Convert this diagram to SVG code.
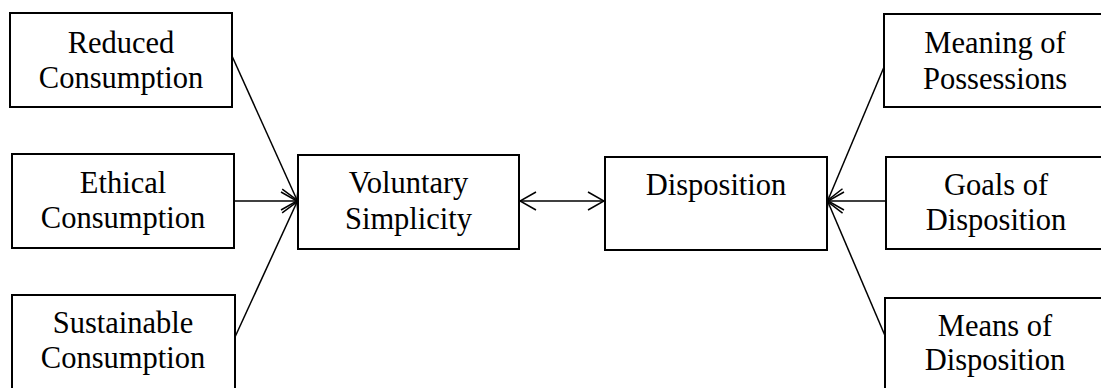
<svg xmlns="http://www.w3.org/2000/svg" width="1101" height="388" viewBox="0 0 1101 388">
  <style>
    .box { fill: #ffffff; stroke: #000000; stroke-width: 2; }
    .lbl { font-family: "Liberation Serif", "Times New Roman", serif; font-size: 30.5px; fill: #000000; text-anchor: middle; }
    .link { fill: none; stroke: #000000; stroke-width: 1.5; }
  </style>
  <defs>
    <marker id="vee" viewBox="0 0 18 20" refX="17" refY="10" markerWidth="18" markerHeight="20" markerUnits="userSpaceOnUse" orient="auto-start-reverse">
      <path d="M1,1 L17,10 L1,19" fill="none" stroke="#000000" stroke-width="1.5"/>
    </marker>
  </defs>

  <rect width="1101" height="388" fill="#ffffff"/>

  <g id="connectors">
    <line class="link" x1="232" y1="56" x2="297" y2="200" marker-end="url(#vee)"/>
    <line class="link" x1="234" y1="201" x2="297" y2="201" marker-end="url(#vee)"/>
    <line class="link" x1="235" y1="337" x2="297" y2="202" marker-end="url(#vee)"/>
    <line class="link" x1="520" y1="201" x2="604" y2="201" marker-start="url(#vee)" marker-end="url(#vee)"/>
    <line class="link" x1="884" y1="67" x2="828" y2="200" marker-end="url(#vee)"/>
    <line class="link" x1="886" y1="201" x2="828" y2="201" marker-end="url(#vee)"/>
    <line class="link" x1="886" y1="338" x2="828" y2="202" marker-end="url(#vee)"/>
  </g>

  <g id="reduced-consumption">
    <rect class="box" x="10" y="13" width="222" height="94"/>
    <text class="lbl" x="121" y="53">Reduced</text>
    <text class="lbl" x="121" y="88">Consumption</text>
  </g>

  <g id="ethical-consumption">
    <rect class="box" x="12" y="154" width="222" height="94"/>
    <text class="lbl" x="123" y="193">Ethical</text>
    <text class="lbl" x="123" y="228">Consumption</text>
  </g>

  <g id="sustainable-consumption">
    <rect class="box" x="12" y="295" width="223" height="100"/>
    <text class="lbl" x="123" y="333">Sustainable</text>
    <text class="lbl" x="123" y="368">Consumption</text>
  </g>

  <g id="voluntary-simplicity">
    <rect class="box" x="298" y="155" width="221" height="94"/>
    <text class="lbl" x="408.5" y="193">Voluntary</text>
    <text class="lbl" x="408.5" y="229">Simplicity</text>
  </g>

  <g id="disposition">
    <rect class="box" x="605" y="157" width="222" height="93"/>
    <text class="lbl" x="716" y="195">Disposition</text>
  </g>

  <g id="meaning-of-possessions">
    <rect class="box" x="884" y="14" width="222" height="93"/>
    <text class="lbl" x="995" y="53">Meaning of</text>
    <text class="lbl" x="995" y="89">Possessions</text>
  </g>

  <g id="goals-of-disposition">
    <rect class="box" x="886" y="157" width="222" height="92"/>
    <text class="lbl" x="996" y="195">Goals of</text>
    <text class="lbl" x="996" y="230">Disposition</text>
  </g>

  <g id="means-of-disposition">
    <rect class="box" x="885" y="298" width="222" height="100"/>
    <text class="lbl" x="995" y="336">Means of</text>
    <text class="lbl" x="995" y="370">Disposition</text>
  </g>
</svg>
